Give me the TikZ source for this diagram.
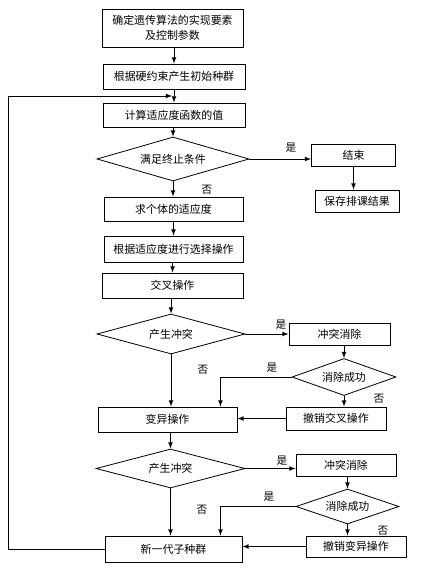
\documentclass[tikz,border=0pt]{standalone}
\usepackage{fontspec}
\newfontfamily\cjk{Noto Sans CJK SC}
\usepackage{tikz}
\usetikzlibrary{shapes,arrows}
\usetikzlibrary{arrows,calc,positioning}
\usetikzlibrary{shapes.geometric}
\tikzset{
        block/.style = {draw, rectangle, line width=0.7pt,
            font=\cjk\fontsize{8.2}{11}\selectfont, align=center,
            inner sep=0pt},
        decision/.style = {draw, diamond, line width=0.6pt,
            font=\cjk\fontsize{8.2}{11}\selectfont,
            inner sep=0pt, aspect=3.5},
        arrow/.style={draw, -latex, line width=0.6pt},
        line/.style={draw, line width=0.6pt},
        lbl/.style = {font=\cjk\fontsize{8}{10}\selectfont, inner sep=0pt},
    }

\begin{document}
\begin{tikzpicture}[x=0.75pt,y=0.75pt,yscale=-1,xscale=1]
\useasboundingbox (0,0) rectangle (426,571);

% main column
\node (ga) [block, minimum width=105.75pt, minimum height=28.5pt] at (172.5,28) {确定遗传算法的实现要素\\及控制参数};
\node (init) [block, minimum width=106.5pt, minimum height=18.75pt] at (174,76.5) {根据硬约束产生初始种群};
\node (calc) [block, minimum width=106.5pt, minimum height=18pt] at (174,115) {计算适应度函数的值};
\node (stop) [decision, minimum width=114pt, minimum height=33pt] at (173,159) {满足终止条件};
\node (fit) [block, minimum width=104.25pt, minimum height=18pt] at (173.5,209) {求个体的适应度};
\node (sel) [block, minimum width=104.25pt, minimum height=19.5pt] at (173.5,249) {根据适应度进行选择操作};
\node (cross) [block, minimum width=105.75pt, minimum height=18.75pt] at (172.5,285.5) {交叉操作};
\node (conf1) [decision, minimum width=111pt, minimum height=30pt] at (171,334) {产生冲突};
\node (mut) [block, minimum width=104.25pt, minimum height=18.75pt] at (167.5,419.5) {变异操作};
\node (conf2) [decision, minimum width=111.75pt, minimum height=29.25pt] at (170.5,468.5) {产生冲突};
\node (newpop) [block, minimum width=102.75pt, minimum height=19.5pt] at (173.5,549) {新一代子种群};

% right column
\node (fin) [block, minimum width=63pt, minimum height=16.5pt] at (353.5,155.5) {结束};
\node (save) [block, minimum width=63pt, minimum height=16.5pt] at (357,201) {保存排课结果};
\node (fix1) [block, minimum width=75.75pt, minimum height=16.5pt] at (339.5,334) {冲突消除};
\node (ok1) [decision, minimum width=78pt, minimum height=27.75pt] at (344,377) {消除成功};
\node (undo1) [block, minimum width=75pt, minimum height=17.25pt] at (336,418.5) {撤销交叉操作};
\node (fix2) [block, minimum width=75pt, minimum height=16.5pt] at (346,465) {冲突消除};
\node (ok2) [decision, minimum width=77.25pt, minimum height=26.25pt] at (347.5,506.5) {消除成功};
\node (undo2) [block, minimum width=75pt, minimum height=15.75pt] at (356,546.5) {撤销变异操作};

\coordinate (loopin) at (172,96);

% connectors
\draw [arrow] (ga.south -| init.north) -- (init.north);
\draw [arrow] (init.south) -- (calc.north);
\draw [arrow] (calc.south -| stop.north) -- (stop.north);
\draw [arrow] (stop.east) -- (stop.east -| fin.west);
\draw [arrow] (fin.south) -- (fin.south |- save.north);
\draw [arrow] (stop.south) -- (stop.south |- fit.north);
\draw [arrow] (fit.south) -- (sel.north);
\draw [arrow] (sel.south -| cross.north) -- (cross.north);
\draw [arrow] (cross.south -| conf1.north) -- (conf1.north);
\draw [arrow] (conf1.east) -- (fix1.west);
\draw [arrow] (ok1.north |- fix1.south) -- (ok1.north);
\draw [arrow] (ok1.west) -| ($(mut.north east)+(-17,0)$);
\draw [arrow] (ok1.south) -- (ok1.south |- undo1.north);
\draw [arrow] (undo1.west) -- (undo1.west -| mut.east);
\draw [arrow] (conf1.south) -- (conf1.south |- mut.north);
\draw [arrow] (mut.south -| conf2.north) -- (conf2.north);
\draw [arrow] (conf2.east) -- (conf2.east -| fix2.west);
\draw [arrow] (ok2.north |- fix2.south) -- (ok2.north);
\draw [arrow] (ok2.west) -| ($(newpop.north east)+(-22,0)$);
\draw [arrow] (ok2.south) -- (ok2.south |- undo2.north);
\draw [arrow] (undo2.west) -- (undo2.west -| newpop.east);
\draw [arrow] (conf2.south) -- (conf2.south |- newpop.north);
\draw [arrow] (newpop.west) -- ++(-96,0) |- (loopin);

% labels
\node (y1) [lbl] at (291,148) {是};
\node (n1) [lbl] at (207,190) {否};
\node (y2) [lbl] at (281,325) {是};
\node (y3) [lbl] at (272,368) {是};
\node (n2) [lbl] at (203,370) {否};
\node (n3) [lbl] at (379,399) {否};
\node (y4) [lbl] at (282,461) {是};
\node (y5) [lbl] at (269,497) {是};
\node (n4) [lbl] at (202,510) {否};
\node (n5) [lbl] at (383,531) {否};

\end{tikzpicture}
\end{document}
